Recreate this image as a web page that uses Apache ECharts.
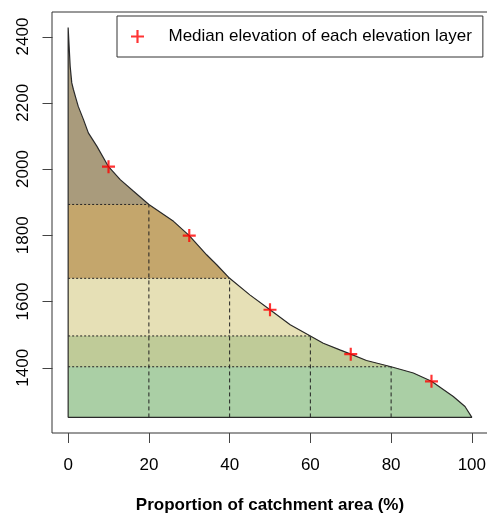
<!DOCTYPE html>
<html>
<head>
<meta charset="utf-8">
<script src="https://cdn.jsdelivr.net/npm/echarts@6/dist/echarts.min.js"></script>
<style>html,body{margin:0;padding:0;background:#fff;}#c{width:487px;height:515px;}</style>
</head>
<body>
<div id="c"></div>
<script>
// ---- data ----
const curveX = [0, 0.5, 0.9, 1.3, 2.0, 2.5, 3.8, 5.0, 7.1, 10, 12.9, 16.2, 20, 26.1, 30, 34.3, 36.8, 40, 45, 50, 55, 60, 63.2, 67.3, 70, 73.9, 80, 85.5, 90, 95.4, 98.3, 100];
const curveY = [2427, 2310, 2260, 2240, 2210, 2189, 2149, 2109, 2069, 2007, 1968, 1933, 1893, 1842, 1799, 1741, 1711, 1670, 1620, 1575, 1530, 1496, 1474, 1454, 1441, 1422, 1403, 1384, 1359, 1313, 1283, 1250];
const baseElev = 1250;
const layerX = [20, 40, 60, 80];            // layer boundaries (% area)
const layerElev = [1893, 1670, 1496, 1403]; // elevation at those boundaries
const medianX = [10, 30, 50, 70, 90];
const medianY = [2007, 1799, 1575, 1441, 1359];
const xTicks = [0, 20, 40, 60, 80, 100];
const yTicks = [1400, 1600, 1800, 2000, 2200, 2400];
const layerColors = ['#a99b7c', '#c4a66c', '#e6e0b6', '#bfcb98', '#aacfa5'];
const legendName = 'Median elevation of each elevation layer';
const xTitle = 'Proportion of catchment area (%)';

// ---- build ----
const X_MIN = -4, X_MAX = 104, Y_MIN = 1203, Y_MAX = 2474;
const curve = curveX.map((x, i) => [x, curveY[i]]);
const FONT = 'Liberation Sans, Arial, sans-serif';
const plusPath = 'path://M5,0 L7,0 L7,5 L12,5 L12,7 L7,7 L7,12 L5,12 L5,7 L0,7 L0,5 L5,5 Z';

const series = [];
const levels = [Infinity].concat(layerElev);
levels.forEach((lv, k) => {
  series.push({
    type: 'line', silent: true, showSymbol: false, symbol: 'none',
    data: curve.map(p => [p[0], Math.min(p[1], lv)]),
    lineStyle: { width: 0, opacity: 0 },
    areaStyle: { color: layerColors[k], opacity: 1, origin: baseElev },
    z: 1
  });
});
layerX.forEach((x, i) => {
  series.push({
    type: 'line', silent: true, symbol: 'none',
    data: [[0, layerElev[i]], [x, layerElev[i]]],
    lineStyle: { color: '#222', width: 1, type: [2, 2] }, z: 2
  });
  series.push({
    type: 'line', silent: true, symbol: 'none',
    data: [[x, baseElev], [x, layerElev[i]]],
    lineStyle: { color: '#222', width: 1, type: [4, 3] }, z: 2
  });
});
series.push({
  type: 'line', silent: true, symbol: 'none',
  data: [[0, baseElev]].concat(curve).concat([[0, baseElev]]),
  lineStyle: { color: '#2a2a2a', width: 1.2 }, z: 3
});
series.push({
  name: legendName, type: 'scatter',
  data: medianX.map((x, i) => [x, medianY[i]]),
  symbol: plusPath, symbolSize: 13,
  itemStyle: { color: '#ff0000' }, z: 5
});
// y-axis ticks (outside the frame), placed through the axis scale
series.push({
  type: 'custom', silent: true, clip: false, z: 6,
  data: yTicks.map(v => [X_MIN, v]),
  renderItem: function (params, api) {
    const p = api.coord([api.value(0), api.value(1)]);
    const x = Math.round(p[0]) + 0.5, y = Math.round(p[1]) + 0.5;
    return { type: 'line', shape: { x1: x - 10, y1: y, x2: x, y2: y },
             style: { stroke: '#444', lineWidth: 1 } };
  }
});

const chart = echarts.init(document.getElementById('c'), null, { renderer: 'canvas' });
chart.setOption({
  animation: false,
  backgroundColor: '#fff',
  grid: { left: 52, top: 12, width: 436, height: 421, show: true, borderColor: '#333', borderWidth: 1,
          backgroundColor: 'transparent', outerBoundsMode: 'none', containLabel: false },
  legend: {
    left: 117, top: 16, orient: 'horizontal',
    padding: [12, 11, 12, 14],
    borderColor: '#333', borderWidth: 1, backgroundColor: '#fff',
    itemWidth: 40, itemHeight: 13, symbolKeepAspect: true,
    textStyle: { fontFamily: FONT, fontSize: 17, color: '#000', padding: [0, 0, 0, 6] },
    data: [{ name: legendName, icon: plusPath, itemStyle: { color: '#ff0000' } }]
  },
  xAxis: {
    type: 'value', min: X_MIN, max: X_MAX, position: 'bottom',
    name: xTitle, nameLocation: 'middle', nameGap: 64,
    nameTextStyle: { fontFamily: FONT, fontSize: 17, fontWeight: 'bold', color: '#000' },
    axisLine: { show: false, onZero: false },
    axisTick: { show: true, length: 10, inside: false, customValues: xTicks, lineStyle: { color: '#444', width: 1 } },
    axisLabel: { customValues: xTicks, margin: 24, fontFamily: FONT, fontSize: 17, color: '#000',
                 formatter: v => String(v) },
    splitLine: { show: false }
  },
  yAxis: {
    type: 'value', min: Y_MIN, max: Y_MAX, position: 'left',
    axisLine: { show: false, onZero: false },
    axisTick: { show: false },
    axisLabel: { customValues: yTicks, rotate: 90, margin: 20, fontFamily: FONT, fontSize: 17, color: '#000',
                 formatter: v => String(v) },
    splitLine: { show: false }
  },
  series: series
});
</script>
</body>
</html>
